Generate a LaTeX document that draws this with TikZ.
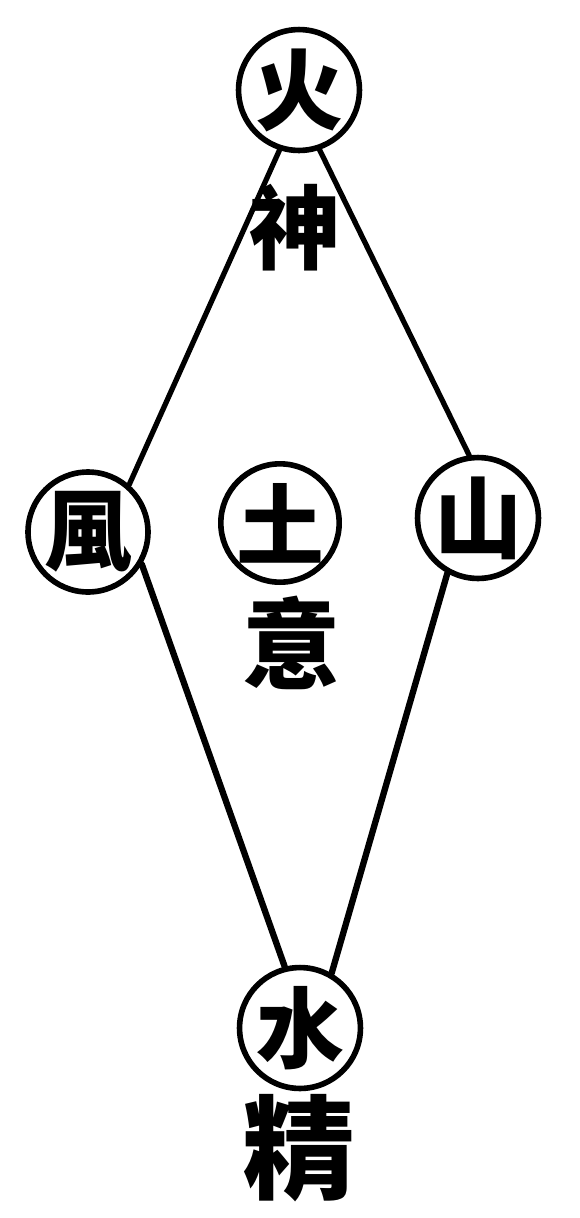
\documentclass[tikz,border=0pt]{standalone}
\usepackage{fontspec}
\newfontfamily\cjk{Noto Sans CJK TC}
\begin{document}
\begin{tikzpicture}[x=0.02cm,y=-0.02cm,
  ring/.style={circle,draw=black,line width=3.2pt,inner sep=0pt,minimum size=2.4cm,
    font=\cjk\bfseries\fontsize{50}{50}\selectfont},
  lbl/.style={inner sep=0pt,font=\cjk\bfseries\fontsize{52}{52}\selectfont},
  link/.style={line width=3pt,line cap=round},
  heavylink/.style={line width=3.6pt,line cap=round}]
\useasboundingbox (0,0) rectangle (580,1218);
\node[ring] (fire) at (299,90) {火};
\node[ring] (wind) at (88,532) {風};
\node[ring,minimum size=2.3cm] (earth) at (280,523) {土};
\node[ring] (mount) at (478,518) {山};
\node[ring] (water) at (300,1028) {水};
\node[lbl] (shen) at (295,228) {神};
\node[lbl,font=\cjk\bfseries\fontsize{56}{56}\selectfont] (yi) at (292,643) {意};
\node[lbl,font=\cjk\bfseries\fontsize{64}{64}\selectfont] (jing) at (299,1148) {精};
\draw[link] (fire.252) -- (wind.49);
\draw[link] (fire.-71) -- (mount.98);
\draw[heavylink] (wind.-31) -- (water.104);
\draw[heavylink] (mount.-119) -- (water.60);
\end{tikzpicture}
\end{document}
